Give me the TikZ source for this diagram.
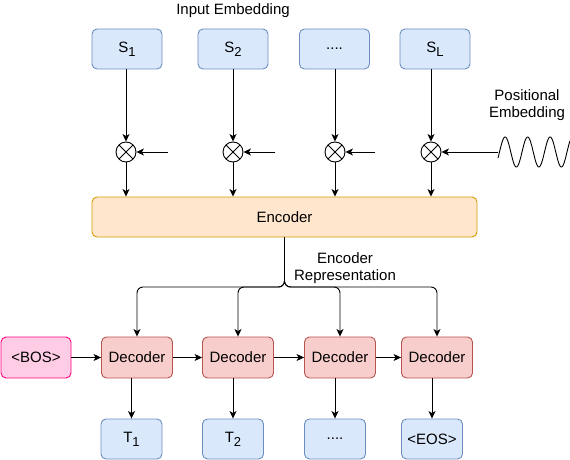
\documentclass[tikz,border=0pt]{standalone}
\usepackage{fontspec}
\setmainfont{Liberation Sans}
\usetikzlibrary{arrows.meta}
\definecolor{embfill}{RGB}{218,232,252}
\definecolor{embline}{RGB}{108,142,191}
\definecolor{encfill}{RGB}{255,230,204}
\definecolor{encline}{RGB}{215,155,0}
\definecolor{decfill}{RGB}{248,206,204}
\definecolor{decline}{RGB}{184,84,80}
\definecolor{bosfill}{RGB}{255,204,230}
\definecolor{bosline}{RGB}{255,0,128}
\newcommand{\tsub}[1]{\raisebox{-4pt}{\fontsize{13}{13}\selectfont #1}}

\tikzset{
  box/.style={draw, rounded corners=5pt, line width=0.9pt, inner sep=0pt, align=center},
  embbox/.style={box, fill=embfill, draw=embline, minimum width=70pt, minimum height=40pt},
  tokbox/.style={box, fill=embfill, draw=embline, minimum width=61pt, minimum height=40pt},
  encbox/.style={box, fill=encfill, draw=encline, minimum width=385pt, minimum height=40pt},
  decbox/.style={box, fill=decfill, draw=decline, minimum width=71pt, minimum height=41pt},
  bosbox/.style={box, fill=bosfill, draw=bosline, minimum width=70pt, minimum height=41pt},
  mult/.style={circle, draw, fill=white, line width=0.9pt, minimum size=20pt, inner sep=0pt,
    path picture={\draw[line width=0.9pt] (path picture bounding box.north west) -- (path picture bounding box.south east)
      (path picture bounding box.north east) -- (path picture bounding box.south west);}},
  arr/.style={-{Stealth[length=7.5pt,width=7pt,inset=2pt]}, line width=0.9pt},
  lbl/.style={inner sep=0.75pt, align=center}
}

\begin{document}
\begin{tikzpicture}[x=1pt,y=1pt,yscale=-1,xscale=1,font=\fontsize{15}{17}\selectfont]
\useasboundingbox (0,0) rectangle (570,460);

% Input embedding boxes
\node[embbox] (s1) at (127,49) {S\tsub{1}};
\node[embbox] (s2) at (233,49) {S\tsub{2}};
\node[embbox] (s3) at (334.5,49) {....};
\node[embbox] (sL) at (435,49) {S\tsub{L}};

% Multiply nodes
\node[mult] (m1) at (126,152) {};
\node[mult] (m2) at (233,152) {};
\node[mult] (m3) at (335,152) {};
\node[mult] (mL) at (431,152) {};

% Encoder
\node[encbox] (enc) at (284.5,217) {Encoder};

% Decoders
\node[bosbox] (bos) at (36,357.5) {<BOS>};
\node[decbox] (d1) at (137,357.5) {Decoder};
\node[decbox] (d2) at (238,357.5) {Decoder};
\node[decbox] (d3) at (340,357.5) {Decoder};
\node[decbox] (d4) at (437,357.5) {Decoder};

% Output tokens
\node[tokbox] (t1) at (131.5,439) {T\tsub{1}};
\node[tokbox] (t2) at (233,439) {T\tsub{2}};
\node[tokbox] (t3) at (335,439) {....};
\node[tokbox] (tL) at (432,439) {<EOS>};

% Free ends
\coordinate (p1) at (168,152);
\coordinate (p2) at (275,152);
\coordinate (p3) at (375,152);
\coordinate (wave) at (498,152);
\coordinate (bus) at (284.5,287);

%Straight Lines: embedding to multiply
\draw[arr] (s1.south -| m1) -- (m1.north);
\draw[arr] (s2.south -| m2) -- (m2.north);
\draw[arr] (s3.south -| m3) -- (m3.north);
\draw[arr] (sL.south -| mL) -- (mL.north);
%Straight Lines: positional inputs
\draw[arr] (p1) -- (m1.east);
\draw[arr] (p2) -- (m2.east);
\draw[arr] (p3) -- (m3.east);
\draw[arr] (wave) -- (mL.east);
%Straight Lines: multiply to encoder
\draw[arr] (m1.south) -- (enc.north -| m1);
\draw[arr] (m2.south) -- (enc.north -| m2);
\draw[arr] (m3.south) -- (enc.north -| m3);
\draw[arr] (mL.south) -- (enc.north -| mL);

%Curve Lines: positional embedding wave
\draw[line width=0.9pt, domain=0:72, samples=200] plot ({498+\x},{152-15*sin((\x-1.5)*16)});

%Straight Lines: encoder representation bus
\draw[arr, rounded corners=6pt] (enc.south) -- (bus) -| (d1.north);
\draw[arr, rounded corners=6pt] (enc.south) -- (bus) -| (d2.north);
\draw[arr, rounded corners=6pt] (enc.south) -- (bus) -| (d3.north);
\draw[arr, rounded corners=6pt] (enc.south) -- (bus) -| (d4.north);

%Straight Lines: decoder chain
\draw[arr] (bos.east) -- (d1.west);
\draw[arr] (d1.east) -- (d2.west);
\draw[arr] (d2.east) -- (d3.west);
\draw[arr] (d3.east) -- (d4.west);

%Straight Lines: decoder to output
\draw[arr] (d1.south -| t1) -- (t1.north);
\draw[arr] (d2.south -| t2) -- (t2.north);
\draw[arr] (d3.south -| t3) -- (t3.north);
\draw[arr] (d4.south -| tL) -- (tL.north);

% Text Node
\node[lbl] (inemb) at (233,11) {Input Embedding};
% Text Node
\node[lbl] (posemb) at (527,105) {Positional\\Embedding};
% Text Node
\node[lbl] (encrep) at (345,268) {Encoder\\Representation};

\end{tikzpicture}
\end{document}
